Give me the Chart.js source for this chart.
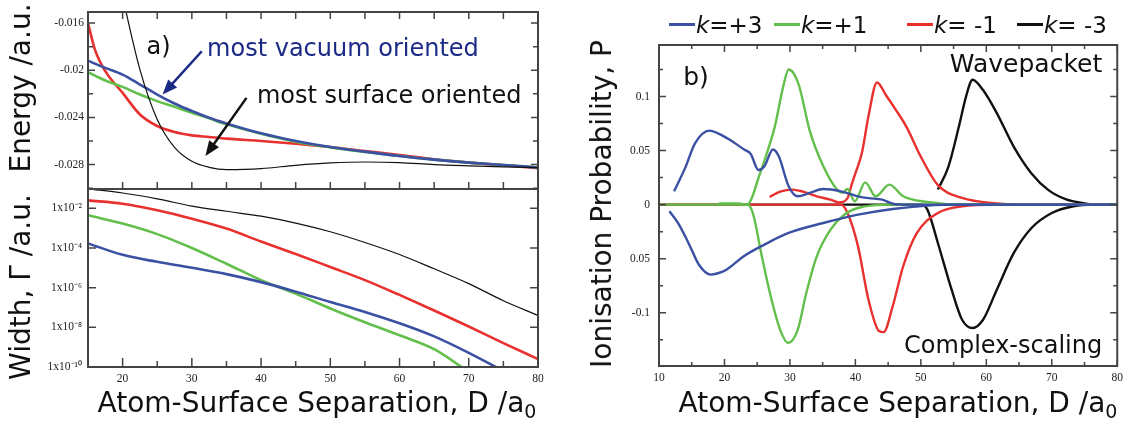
<!DOCTYPE html>
<html>
<head>
<meta charset="utf-8">
<script src="https://cdn.jsdelivr.net/npm/chart.js@4.4.0/dist/chart.umd.min.js"></script>
<style>
  body { margin: 0; background: #fff; }
  #fig { position: relative; width: 1128px; height: 428px; overflow: hidden; font-family: "DejaVu Sans", sans-serif; color: #111; }
  #fig canvas { position: absolute; left: 0; top: 0; }
  .t { position: absolute; font-size: 28px; line-height: 28px; white-space: nowrap; }
  .t sub { font-size: 19px; line-height: 0; vertical-align: -6px; }
  .rot { transform: translate(-50%, -50%) rotate(-90deg); }
  .hx { transform: translateX(-50%); }
  .leg { position: absolute; top: 11px; font-size: 23px; line-height: 28px; white-space: nowrap; }
  .leg .l { display: inline-block; width: 26px; height: 3px; vertical-align: 7px; margin-right: 1px; }
</style>
</head>
<body>
<div id="fig">
  <canvas id="cP" width="1128" height="428"></canvas>
  <canvas id="cE" width="1128" height="428"></canvas>
  <canvas id="cW" width="1128" height="428"></canvas>
  <div class="t rot" style="left:21px;top:88px">Energy /a.u.</div>
  <div class="t rot" style="left:21px;top:287px">Width, Γ /a.u.</div>
  <div class="t rot" style="left:602px;top:204px">Ionisation Probability, P</div>
  <div class="t hx" style="left:317px;top:389px">Atom-Surface Separation, D /a<sub>0</sub></div>
  <div class="t hx" style="left:898px;top:389px">Atom-Surface Separation, D /a<sub>0</sub></div>
</div>
<script>
// a) energy
const energyX = [15, 16, 17.5, 20, 22.5, 25, 27.5, 30, 32.5, 35, 40, 45, 50, 55, 60, 65, 70, 75, 80];
const energyBlue = [-0.01918, -0.01944, -0.0198, -0.02037, -0.02121, -0.02206, -0.02282, -0.02346, -0.02403, -0.02451,
  -0.02535, -0.026, -0.02651, -0.0269, -0.02727, -0.02758, -0.02783, -0.02803, -0.02825];
const energyGreen = [-0.02017, -0.02045, -0.02087, -0.02141, -0.02206, -0.02262, -0.0231, -0.02361, -0.02408, -0.02459,
  -0.02538, -0.02606, -0.02654, -0.02693, -0.02727, -0.02758, -0.02783, -0.02803, -0.02825];
const energyRed = [-0.016, -0.01825, -0.02008, -0.02192, -0.02375, -0.02473, -0.02524, -0.02552, -0.02566, -0.0258,
  -0.026, -0.02623, -0.02651, -0.02685, -0.02718, -0.02755, -0.02783, -0.02806, -0.02831];
const energyBlack = [null, null, null, -0.0138, -0.01994, -0.02417, -0.02654, -0.02772, -0.02823, -0.02842,
  -0.02834, -0.02806, -0.02786, -0.02778, -0.02783, -0.028, -0.02811, -0.0282, -0.02825];
const energyTicks = [-0.016, -0.02, -0.024, -0.028];

// a) widths, log axis
const widthX = [15, 20, 25, 30, 35, 40, 45, 50, 55, 60, 65, 70, 75, 80];
const widthBlack = [9.5e-2, 5.9e-2, 3.0e-2, 1.3e-2, 7.1e-3, 4.0e-3, 1.8e-3, 6.6e-4, 1.9e-4, 4.7e-5, 8.9e-6, 1.6e-6, 2.2e-7, 4.0e-8];
const widthRed = [2.5e-2, 1.7e-2, 7.9e-3, 3.0e-3, 9.5e-4, 2.1e-4, 5.0e-5, 1.1e-5, 2.4e-6, 4.3e-7, 7.1e-8, 1.1e-8, 1.6e-9, 2.5e-10];
const widthGreen = [4.5e-3, 1.7e-3, 5.0e-4, 1.0e-4, 1.6e-5, 2.4e-6, 5.0e-7, 8.9e-8, 1.8e-8, 4.0e-9, 7.9e-10, 5.6e-11, null, null];
const widthBlue = [1.7e-4, 4.5e-5, 2.0e-5, 1.0e-5, 4.8e-6, 1.9e-6, 6.3e-7, 1.9e-7, 6.0e-8, 1.6e-8, 3.5e-9, 5.2e-10, 6.3e-11, null];
const widthTicks = [1e-2, 1e-4, 1e-6, 1e-8, 1e-10];
const separationTicksA = [20, 30, 40, 50, 60, 70, 80];

// b) ionisation probability, [D, P]
const wavepacketBlue = [[12.3, 0.0123], [14, 0.034], [15.5, 0.0567], [17.7, 0.0685], [19, 0.066], [20.8, 0.06], [23, 0.051],
  [24, 0.047], [25.2, 0.032], [26.1, 0.0355], [27.4, 0.051], [28.3, 0.0447], [29.8, 0.017], [31.2, 0.0077], [33, 0.0108],
  [35.1, 0.0145], [37.8, 0.0123], [40.4, 0.0077], [42, 0.006], [44.1, 0.0046], [45.7, 0.001], [48, 0], [80, 0]];
const wavepacketGreen = [[19, 0], [19.3, 0.001], [22.2, 0.001], [23.5, 0], [24.3, 0.008], [25.1, 0.023], [26.5, 0.048],
  [27.7, 0.0725], [29, 0.11], [29.8, 0.125], [30.5, 0.122], [31.4, 0.11], [33, 0.069], [35.1, 0.0355], [37.2, 0.0139],
  [38, 0.011], [38.8, 0.0145], [39.9, 0.003], [41.5, 0.0206], [43.1, 0.0077], [45.2, 0.0185], [47.3, 0.0077],
  [51, 0.0025], [56.3, 0], [80, 0]];
const wavepacketRed = [[26.9, 0.0071], [28.5, 0.012], [30.4, 0.0139], [32, 0.012], [34.1, 0.0077], [36.2, 0.0046],
  [37.5, 0.002], [38.8, 0.006], [39.5, 0.02], [40, 0.029], [41, 0.048], [42, 0.082], [43.3, 0.113], [44.7, 0.101],
  [46.2, 0.0875], [47.8, 0.072], [50, 0.0443], [52.6, 0.018], [56.3, 0.0062], [61.6, 0.001], [65, 0], [80, 0]];
const wavepacketBlack = [[52.6, 0.0139], [54.2, 0.035], [55.8, 0.072], [56.9, 0.1], [57.9, 0.1155], [59.5, 0.106],
  [61.6, 0.0847], [64.2, 0.0535], [66.9, 0.0289], [69.5, 0.0134], [72.2, 0.0048], [74.8, 0.0014], [77, 0], [80, 0]];
const complexBlue = [[11.6, -0.0062], [12.8, -0.016], [14, -0.0293], [15, -0.042], [16.1, -0.0556], [17.9, -0.0648],
  [19, -0.0635], [20.3, -0.0602], [22.9, -0.0479], [26.1, -0.037], [29.8, -0.0262], [35.1, -0.017], [40.4, -0.0093],
  [45.7, -0.004], [51, -0.0009], [56.3, 0], [80, 0]];
const complexGreen = [[10, 0], [23.5, 0], [24.1, -0.004], [24.6, -0.0139], [25.6, -0.0447], [27.2, -0.088], [28.5, -0.1157],
  [29.7, -0.128], [31.2, -0.1157], [32.5, -0.0818], [34.1, -0.0479], [36.2, -0.0232], [38.3, -0.0093], [40.4, -0.0031],
  [45.7, 0], [80, 0]];
const complexRed = [[10, 0], [37.8, 0], [38.8, -0.0077], [40.4, -0.0386], [42, -0.088], [43.6, -0.117], [44.3, -0.118],
  [45.7, -0.094], [47.3, -0.057], [49.4, -0.0262], [52.6, -0.0077], [56.3, -0.0016], [61.6, 0], [80, 0]];
const complexBlack = [[10, 0], [50, 0], [51, -0.0046], [52.6, -0.0355], [54.7, -0.0787], [56.3, -0.1065], [57.9, -0.1142],
  [59.5, -0.1065], [61.6, -0.0787], [64.2, -0.0447], [66.9, -0.0216], [70, -0.0077], [73.3, -0.0015], [76.4, 0], [80, 0]];
const probTickValues = [0.1, 0.05, 0, -0.05, -0.1];
const probTickLabels = ["0.1", "0.05", "0", "0.05", "-0.1"];
const separationTicksB = [10, 20, 30, 40, 50, 60, 70, 80];
const legendLabels = ["+3", "+1", " -1", " -3"];

const C = { blue: "#3a50a2", green: "#63bf4b", red: "#e8312f", black: "#111111", navy: "#1c2a86" };
const legendColors = [C.blue, C.green, C.red, C.black];
const legendLeft = [669, 774, 907, 1017];
const tickFont = { family: "Liberation Serif", size: 11.5 };

const pts = (xs, ys) => xs.map((x, i) => ({ x, y: ys[i] })).filter((p) => p.y !== null);
const pairs = (a) => a.map(([x, y]) => ({ x, y }));

function line(data, color, width) {
  return { data, borderColor: color, borderWidth: width, pointRadius: 0, showLine: true, fill: false, cubicInterpolationMode: "monotone" };
}

function base(padding) {
  return { responsive: false, animation: false, events: [], layout: { padding },
    plugins: { legend: { display: false }, tooltip: { enabled: false } } };
}

function yAxis(min, max, ticks, width, padding, extra) {
  return Object.assign({
    type: "linear", min, max,
    afterFit: (s) => { s.width = width; },
    afterBuildTicks: (s) => { s.ticks = ticks.map((v) => ({ value: v })); },
    grid: { display: false, drawTicks: false }, border: { display: false },
    ticks: { font: tickFont, color: "#222", padding, autoSkip: false, callback: (v) => String(v) },
  }, extra || {});
}

function xAxis(min, max, ticks, height) {
  return {
    type: "linear", min, max,
    afterFit: (s) => { s.height = height; },
    afterBuildTicks: (s) => { s.ticks = ticks.map((v) => ({ value: v })); },
    grid: { display: false, drawTicks: false }, border: { display: false },
    ticks: { font: tickFont, color: "#222", padding: 5, autoSkip: false, maxRotation: 0 },
  };
}

// frame plus inward tick marks on the chosen sides
function frame(o) {
  return {
    id: "frame",
    afterDatasetsDraw(chart) {
      const { ctx, chartArea: a, scales: { x, y } } = chart;
      ctx.save();
      ctx.strokeStyle = "#444";
      ctx.lineWidth = 1.5;
      ctx.beginPath();
      o.xt.forEach(([v, len]) => {
        const px = x.getPixelForValue(v);
        if (o.xs.includes("bottom")) { ctx.moveTo(px, a.bottom); ctx.lineTo(px, a.bottom - len); }
        if (o.xs.includes("top")) { ctx.moveTo(px, a.top); ctx.lineTo(px, a.top + len); }
      });
      o.yt.forEach(([v, len]) => {
        const py = y.getPixelForValue(v);
        ctx.moveTo(a.left, py); ctx.lineTo(a.left + len, py);
        ctx.moveTo(a.right, py); ctx.lineTo(a.right - len, py);
      });
      ctx.stroke();
      ctx.lineWidth = 2;
      ctx.strokeRect(a.left, a.top, a.right - a.left, a.bottom - a.top);
      ctx.restore();
    },
  };
}

// labels and arrows placed in data coordinates
function notes(texts, arrows) {
  return {
    id: "notes",
    afterDatasetsDraw(chart) {
      const { ctx, scales: { x, y } } = chart;
      ctx.save();
      (arrows || []).forEach((a) => {
        const x0 = x.getPixelForValue(a.from[0]), y0 = y.getPixelForValue(a.from[1]);
        const x1 = x.getPixelForValue(a.to[0]), y1 = y.getPixelForValue(a.to[1]);
        const ang = Math.atan2(y1 - y0, x1 - x0), L = 15, W = 6;
        ctx.strokeStyle = a.color; ctx.fillStyle = a.color; ctx.lineWidth = 2.5;
        ctx.beginPath();
        ctx.moveTo(x0, y0);
        ctx.lineTo(x1 - Math.cos(ang) * L * 0.8, y1 - Math.sin(ang) * L * 0.8);
        ctx.stroke();
        ctx.beginPath();
        ctx.moveTo(x1, y1);
        ctx.lineTo(x1 - Math.cos(ang) * L - Math.sin(ang) * W, y1 - Math.sin(ang) * L + Math.cos(ang) * W);
        ctx.lineTo(x1 - Math.cos(ang) * L + Math.sin(ang) * W, y1 - Math.sin(ang) * L - Math.cos(ang) * W);
        ctx.closePath();
        ctx.fill();
      });
      texts.forEach((t) => {
        ctx.font = t.size + 'px "DejaVu Sans"';
        ctx.fillStyle = t.color || "#111";
        ctx.textAlign = t.align || "left";
        ctx.textBaseline = "alphabetic";
        ctx.fillText(t.text, x.getPixelForValue(t.x), y.getPixelForValue(t.y));
      });
      ctx.restore();
    },
  };
}

function steps(from, to, step, major, lenMajor, lenMinor) {
  const out = [];
  for (let v = from; v <= to + 1e-12; v += step) {
    const r = Math.round(v / major * 1e6) / 1e6;
    out.push([v, Number.isInteger(r) ? lenMajor : lenMinor]);
  }
  return out;
}

const sup = (n) => String(n).split("").map((c) => (c === "-" ? "⁻" : "⁰¹²³⁴⁵⁶⁷⁸⁹"[+c])).join("");

// top left: energy
new Chart(document.getElementById("cE"), {
  type: "scatter",
  data: { datasets: [
    line(pts(energyX, energyBlack), C.black, 1.2),
    line(pts(energyX, energyBlue), C.blue, 2.6),
    line(pts(energyX, energyGreen), C.green, 2.6),
    line(pts(energyX, energyRed), C.red, 2.6),
  ] },
  options: Object.assign(base({ left: 0, top: 12, right: 590, bottom: 239 }), {
    scales: {
      x: { type: "linear", min: 15, max: 80, display: false },
      y: yAxis(-0.03007, -0.01506, energyTicks, 88, 4),
    },
  }),
  plugins: [
    frame({ xs: ["top", "bottom"], xt: steps(15, 80, 5, 10, 7, 7), yt: steps(-0.03, -0.016, 0.002, 0.004, 7, 5) }),
    notes([
      { text: "a)", x: 23.45, y: -0.01859, size: 24 },
      { text: "most vacuum oriented", x: 32.2, y: -0.01876, size: 24, color: C.navy },
      { text: "most surface oriented", x: 39.4, y: -0.02276, size: 24 },
    ], [
      { from: [31.44, -0.01839], to: [25.77, -0.02206], color: C.navy },
      { from: [37.89, -0.02234], to: [31.96, -0.02727], color: "#111" },
    ]),
  ],
});

// bottom left: widths
new Chart(document.getElementById("cW"), {
  type: "scatter",
  data: { datasets: [
    line(pts(widthX, widthBlack), C.black, 1.2),
    line(pts(widthX, widthBlue), C.blue, 2.6),
    line(pts(widthX, widthGreen), C.green, 2.6),
    line(pts(widthX, widthRed), C.red, 2.6),
  ] },
  options: Object.assign(base({ left: 0, top: 189, right: 590, bottom: 0 }), {
    scales: {
      x: xAxis(15, 80, separationTicksA, 61),
      y: yAxis(1e-10, 0.094, widthTicks, 88, 6, {
        type: "logarithmic",
        ticks: { font: tickFont, color: "#222", padding: 6, autoSkip: false,
          callback: (v) => "1x10" + sup(Math.round(Math.log10(v))) },
      }),
    },
  }),
  plugins: [frame({ xs: ["bottom"], xt: steps(15, 80, 5, 10, 9, 6), yt: widthTicks.map((v) => [v, 8]) })],
});

// right: ionisation probability
new Chart(document.getElementById("cP"), {
  type: "scatter",
  data: { datasets: [
    line(pairs(wavepacketBlue), C.blue, 2.4),
    line(pairs(complexBlue), C.blue, 2.4),
    line(pairs(wavepacketGreen), C.green, 2.4),
    line(pairs(complexGreen), C.green, 2.4),
    line(pairs(wavepacketRed), C.red, 2.4),
    line(pairs(complexRed), C.red, 2.4),
    line(pairs(wavepacketBlack), C.black, 2.4),
    line(pairs(complexBlack), C.black, 2.4),
  ] },
  options: Object.assign(base({ left: 590, top: 45, right: 7, bottom: 0 }), {
    scales: {
      x: xAxis(10, 80, separationTicksB, 62),
      y: yAxis(-0.1493, 0.1477, probTickValues, 69, 9, {
        ticks: { font: tickFont, color: "#222", padding: 9, autoSkip: false, callback: (v, i) => probTickLabels[i] },
      }),
    },
  }),
  plugins: [
    frame({ xs: ["top", "bottom"], xt: steps(10, 80, 5, 10, 7, 4), yt: steps(-0.125, 0.125, 0.025, 0.05, 7, 4) }),
    notes([
      { text: "b)", x: 13.7, y: 0.1107, size: 25 },
      { text: "Wavepacket", x: 77.7, y: 0.123, size: 25, align: "right" },
      { text: "Complex-scaling", x: 77.7, y: -0.1373, size: 24, align: "right" },
    ]),
  ],
});

// legend for panel b
const fig = document.getElementById("fig");
legendLabels.forEach((lab, i) => {
  const d = document.createElement("div");
  d.className = "leg";
  d.style.left = legendLeft[i] + "px";
  d.innerHTML = '<span class="l" style="background:' + legendColors[i] + '"></span><i>k</i>=' + lab.replace(" ", "&nbsp;");
  fig.appendChild(d);
});
</script>
</body>
</html>
